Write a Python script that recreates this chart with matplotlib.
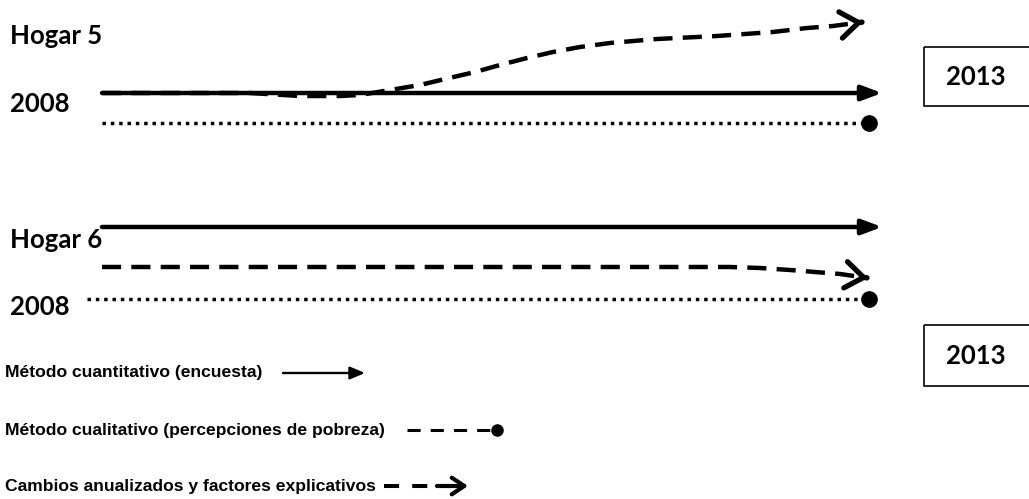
import matplotlib.pyplot as plt
import numpy as np
from matplotlib.patches import Rectangle

# --- datos (coordenadas en pixeles de la imagen) ---

# Hogar 5
h5_cuant_x = [102, 882]
h5_cuant_y = [93, 93]
h5_cambio_x = [102, 250, 300, 340, 360, 390, 420, 445, 475, 500, 527, 553, 580, 610, 657, 717, 773, 807, 833, 863]
h5_cambio_y = [93, 93, 96, 96, 95, 90, 85, 79, 72, 65, 58, 52, 47, 43, 39, 36, 32, 28, 26, 22]
h5_cual_x = [102, 869]
h5_cual_y = [123, 123]

# Hogar 6
h6_cuant_x = [102, 882]
h6_cuant_y = [227, 227]
h6_cambio_x = [102, 730, 760, 790, 815, 840, 868]
h6_cambio_y = [267, 267, 268, 270, 272, 274, 278]
h6_cual_x = [87, 869]
h6_cual_y = [299, 299]

etiquetas = ["Hogar 5", "2008", "Hogar 6", "2008"]
etiquetas_y = [36, 104, 240, 307]

anio_final = "2013"
cajas_y = [(47, 106), (325, 386)]

leyenda = ["Método cuantitativo (encuesta)",
           "Método cualitativo (percepciones de pobreza)",
           "Cambios anualizados y factores explicativos"]
leyenda_y = [373, 430, 486]

calibri = ["Lato", "DejaVu Sans"]
arial = ["Liberation Sans", "DejaVu Sans"]

fig = plt.figure(figsize=(10.29, 4.99), dpi=100)
ax = fig.add_axes([0, 0, 1, 1])
ax.set_xlim(0, 1029)
ax.set_ylim(499, 0)
ax.axis("off")

LW = 3.2


def flecha_llena(x, y, lw, hl, hw):
    ax.annotate("", xy=(x[-1], y[-1]), xytext=(x[0], y[0]),
                arrowprops=dict(arrowstyle=f"-|>,head_length={hl},head_width={hw}",
                                lw=lw, color="black", shrinkA=0, shrinkB=0,
                                mutation_scale=10))


def punta_abierta(x, y, lw, hl, hw):
    dx = x[-1] - x[-2]
    dy = y[-1] - y[-2]
    n = np.hypot(dx, dy)
    ax.annotate("", xy=(x[-1], y[-1]), xytext=(x[-1] - dx / n, y[-1] - dy / n),
                arrowprops=dict(arrowstyle=f"->,head_length={hl},head_width={hw}",
                                lw=lw, color="black", shrinkA=0, shrinkB=0,
                                mutation_scale=10, joinstyle="miter"))


for cx, cy, bx, by, dx, dy in [(h5_cuant_x, h5_cuant_y, h5_cambio_x, h5_cambio_y, h5_cual_x, h5_cual_y),
                               (h6_cuant_x, h6_cuant_y, h6_cambio_x, h6_cambio_y, h6_cual_x, h6_cual_y)]:
    # cuantitativo
    flecha_llena(cx, cy, LW, 1.2, 0.45)
    # cambios (discontinua con punta abierta)
    ax.plot(bx, by, color="black", lw=LW, dashes=(4.3, 2.3), solid_capstyle="butt")
    punta_abierta(bx, by, 3.8, 1.3, 0.95)
    # cualitativo (punteada con circulo)
    ax.plot(dx, dy, color="black", lw=2.5, dashes=(1, 1.4))
    ax.plot(dx[-1], dy[-1], "o", color="black", ms=11)

for t, y in zip(etiquetas, etiquetas_y):
    ax.text(10, y, t, fontsize=18.5, fontweight="bold", family=calibri, va="center", ha="left")

for y0, y1 in cajas_y:
    ax.add_patch(Rectangle((924, y0), 130, y1 - y0, fill=False, lw=1.2, ec="black"))
    ax.text(946, (y0 + y1) / 2, anio_final, fontsize=18.5, fontweight="bold", family=calibri,
            va="center", ha="left")

# leyenda
for t, y in zip(leyenda, leyenda_y):
    ax.text(5, y, t, fontsize=12.6, fontweight="bold", family=arial, va="center", ha="left")

flecha_llena([283, 365], [leyenda_y[0]] * 2, 1.7, 0.9, 0.38)

ax.plot([407, 490], [leyenda_y[1]] * 2, color="black", lw=2.2, dashes=(4.3, 3.3))
ax.plot(497, leyenda_y[1], "o", color="black", ms=8)

ax.plot([384, 430], [leyenda_y[2]] * 2, color="black", lw=2.9, dashes=(3.75, 3.25))
ax.annotate("", xy=(468, leyenda_y[2]), xytext=(437, leyenda_y[2]),
            arrowprops=dict(arrowstyle="->,head_length=0.9,head_width=0.6",
                            lw=3.0, color="black", shrinkA=0, shrinkB=0, mutation_scale=10))

fig.savefig("out.png", dpi=100)
